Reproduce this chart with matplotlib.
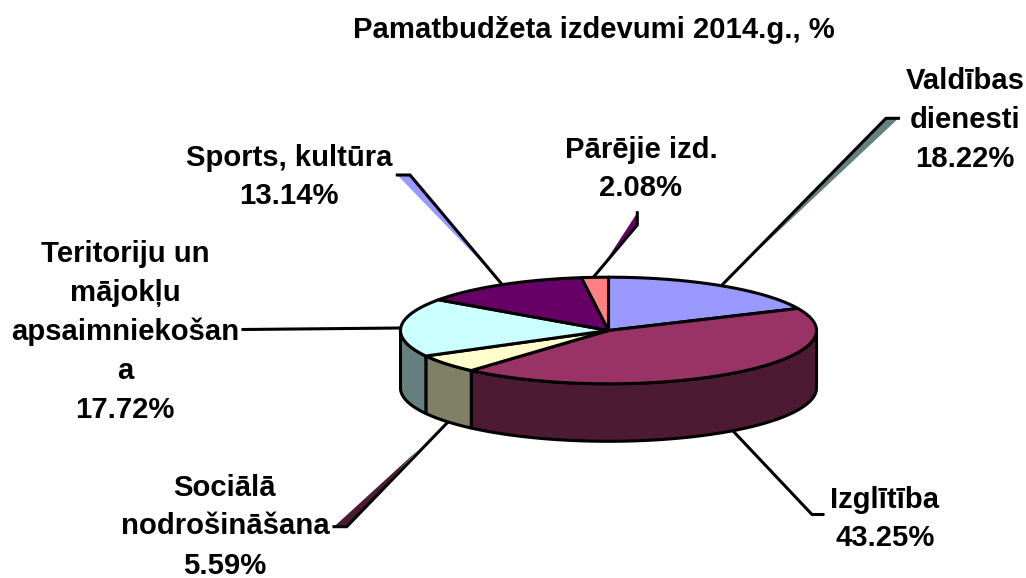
import numpy as np
import matplotlib
matplotlib.use("Agg")
import matplotlib.pyplot as plt

plt.rcParams['font.family'] = ['Liberation Sans', 'DejaVu Sans']

title = "Pamatbudžeta izdevumi 2014.g., %"
categories = ["Valdības\ndienesti", "Izglītība", "Sociālā\nnodrošināšana",
              "Teritoriju un\nmājokļu\napsaimniekošan\na", "Sports, kultūra", "Pārējie izd."]
values = [18.22, 43.25, 5.59, 17.72, 13.14, 2.08]
top_colors = ["#9999FF", "#993366", "#FFFFCC", "#CCFFFF", "#660066", "#FF8080"]
side_colors = ["#4D4D80", "#4D1A33", "#808066", "#668080", "#330033", "#804040"]

# layout (pixels)
CX, CY, RX, RY, DEPTH = 608.5, 330.5, 208, 53.3, 57.5
label_pos = [(965, 120), (885, 519), (225, 526.5), (125, 332), (289, 177), (641, 169)]
leaders = [
    ([(722, 285), (886, 118.3), (898.5, 118.3)], [(886, 118.3), (898.5, 118.3), (735, 272)], "#668080"),
    ([(734, 432), (812, 514.5), (823, 514.5)], None, None),
    ([(446.7, 423.3), (346.7, 526.7), (334, 526.7)], [(334, 526.7), (346.7, 526.7), (418, 450)], "#4D1A33"),
    ([(401, 328), (243, 329.5)], None, None),
    ([(501.7, 284), (410, 175), (397.3, 175)], [(397.3, 175), (410, 175), (492, 273)], "#9999FF"),
    ([(593.3, 277.3), (637.3, 225), (637.3, 212.7)], [(637.3, 212.7), (637.3, 225), (602, 267)], "#660066"),
]

fig = plt.figure(figsize=(10.26, 5.78), dpi=100, facecolor="white")
ax = fig.add_axes([0, 0, 1, 1])
ax.set_xlim(0, 1026)
ax.set_ylim(578, 0)
ax.axis("off")


def arc(a0, a1, dy=0.0, n=120):
    t = np.radians(np.linspace(a0, a1, n))
    return CX + RX * np.sin(t), CY - RY * np.cos(t) + dy


LW = 2.2
edges = np.concatenate([[0], np.cumsum(values)]) / sum(values) * 360

# leader lines behind the pie
for line, wedge, col in leaders:
    if wedge is not None:
        xs, ys = zip(*wedge)
        ax.fill(xs, ys, color=col, lw=0, zorder=1)
    xs, ys = zip(*line)
    ax.plot(xs, ys, color="black", lw=LW, solid_joinstyle="miter", zorder=1.5)

# side wall (front half only)
for i in range(len(values)):
    a0, a1 = max(edges[i], 90), min(edges[i + 1], 270)
    if a1 <= a0:
        continue
    x_top, y_top = arc(a0, a1)
    x_bot, y_bot = arc(a0, a1, DEPTH)
    ax.fill(np.r_[x_top, x_bot[::-1]], np.r_[y_top, y_bot[::-1]],
            facecolor=side_colors[i], edgecolor="black", lw=LW, joinstyle="round", zorder=2)

# top face
for i in range(len(values)):
    x, y = arc(edges[i], edges[i + 1])
    ax.fill(np.r_[CX, x], np.r_[CY, y], facecolor=top_colors[i], edgecolor="black",
            lw=LW, joinstyle="round", zorder=3)

# labels
for i, (name, val) in enumerate(zip(categories, values)):
    ax.text(label_pos[i][0], label_pos[i][1], f"{name}\n{val:.2f}%", ha="center", va="center",
            fontsize=21.1, fontweight="bold", linespacing=1.5, color="black", zorder=5)

ax.text(593.5, 30, title, ha="center", va="center", fontsize=21.1, fontweight="bold", color="black")

fig.savefig("out.png", dpi=100, facecolor="white")
